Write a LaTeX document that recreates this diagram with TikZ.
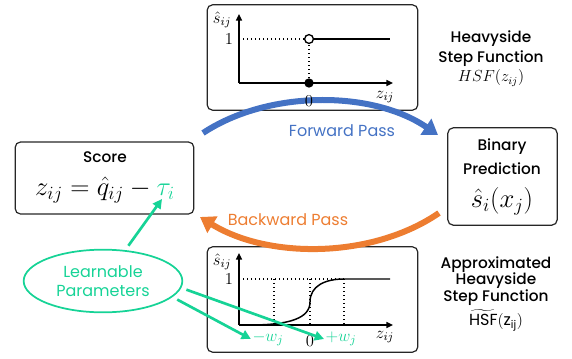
\RequirePackage{fix-cm}
\documentclass[tikz,border=0pt]{standalone}
\usepackage{amsmath,amssymb}
\usepackage{fontspec}
\setmainfont{Poppins}[BoldFont={Poppins Medium}]
\usepackage{xcolor}
\usepackage{tikz}
\usetikzlibrary{arrows.meta,positioning,shapes.geometric}
\definecolor{fwdblue}{RGB}{68,114,196}
\definecolor{bwdorange}{RGB}{237,125,49}
\definecolor{lgreen}{RGB}{22,211,150}

\begin{document}
\begin{tikzpicture}[x=0.75pt, y=-0.75pt,
  box/.style={draw=black!85, line width=0.9pt, rounded corners=4pt},
  ttl/.style={font=\fontsize{11.5}{15}\selectfont\bfseries, inner sep=0pt, align=center},
  big/.style={font=\fontsize{20}{24}\selectfont, inner sep=0pt},
  lbl/.style={font=\fontsize{12.5}{14}\selectfont, inner sep=1pt},
  axis/.style={line width=1.1pt, -{Triangle[length=5pt,width=4.5pt]}},
  pass/.style={line width=4.5pt, -{Triangle[length=11pt,width=14pt]}},
  garrow/.style={lgreen, line width=2pt, -{Triangle[length=7pt,width=7pt]}}]
\useasboundingbox (0,0) rectangle (572,358);

% boxes
\node[box, minimum width=134pt, minimum height=54pt] (score) at (104.5,178) {};
\node[box, minimum width=82pt, minimum height=73pt] (pred) at (502.5,176.5) {};
\node[box, minimum width=158pt, minimum height=79pt] (hsf) at (312.5,57.5) {};
\node[box, minimum width=158pt, minimum height=79pt] (ahsf) at (312.5,299.5) {};

% score and prediction
\node[ttl] (scorettl) at (105,157) {Score};
\node[big] (scoreeq) at (105,190) {$z_{ij} = \hat{q}_{ij} - \textcolor{lgreen}{\tau_i}$};
\coordinate (tau) at (162,199);
\node[ttl, font=\fontsize{11.5}{18}\selectfont\bfseries] (predttl) at (502,157) {Binary\\Prediction};
\node[big] (prede) at (502,201) {$\hat{s}_i(x_j)$};

% titles
\node[ttl] (hsfttl) at (491,49) {Heavyside\\Step Function};
\node[lbl, font=\fontsize{12}{14}\selectfont] (hsfeq) at (491,78) {$HSF(z_{ij})$};
\node[ttl, font=\fontsize{11.5}{12.5}\selectfont\bfseries] (ahsfttl) at (496,281) {Approximated\\Heavyside\\Step Function};
\node[lbl, font=\fontsize{12}{14}\selectfont] (ahsfeq) at (496,320) {$\widetilde{\mathrm{HSF}}(\mathrm{z_{ij}})$};

% forward / backward pass
\coordinate (fa) at (203,133);
\coordinate (fb) at (438,135);
\coordinate (ba) at (439,213);
\coordinate (bb) at (200,217);
\draw[pass, fwdblue] (fa) .. controls (268,90) and (372,90) .. (fb);
\draw[pass, bwdorange] (ba) .. controls (372,259) and (268,259) .. (bb);
\node[font=\fontsize{12}{14}\selectfont, text=fwdblue] (fwdlbl) at (342,131) {Forward Pass};
\node[font=\fontsize{12}{14}\selectfont, text=bwdorange] (bwdlbl) at (288,220) {Backward Pass};

% step function
\draw[axis] (239,83) -- (239,14);
\draw[axis] (239,83) -- (393,83);
\draw[dotted, line width=1pt] (239,39) -- (309,39) -- (309,83);
\draw[line width=1.1pt] (309,39) -- (390,39);
\fill (309,83) circle (3.5pt);
\draw[line width=1pt, fill=white] (309,39) circle (3.3pt);
\node[lbl] (hsfy) at (222,20) {$\hat{s}_{ij}$};
\node[lbl] (hsfone) at (229,39) {$1$};
\node[lbl] (hsfzero) at (309,101) {$0$};
\node[lbl] (hsfx) at (385,97) {$z_{ij}$};

% smooth step
\draw[axis] (239,325) -- (239,253);
\draw[axis] (239,325) -- (393,325);
\draw[dotted, line width=1pt] (239,279) -- (344,279);
\draw[dotted, line width=1pt] (274,279) -- (274,325);
\draw[dotted, line width=1pt] (310,279) -- (310,325);
\draw[dotted, line width=1pt] (344,279) -- (344,325);
\draw[line width=1.1pt] (250,325) .. controls (290,325) and (310,318) .. (310,302)
  .. controls (310,286) and (325,279) .. (344,279) -- (390,279);
\node[lbl] (ahsfy) at (222,262) {$\hat{s}_{ij}$};
\node[lbl] (ahsfone) at (229,279) {$1$};
\node[lbl, text=lgreen] (wm) at (268,339) {$-w_j$};
\node[lbl] (ahsfzero) at (310,341) {$0$};
\node[lbl, text=lgreen] (wp) at (341,339) {$+w_j$};
\node[lbl] (ahsfx) at (385,337) {$z_{ij}$};

% learnable parameters
\node[ellipse, draw=lgreen, line width=1.3pt, minimum width=119pt, minimum height=47pt,
  text=lgreen, align=center, font=\fontsize{12}{14.5}\selectfont] (learn) at (103,281) {Learnable\\Parameters};
\draw[garrow, shorten <=4pt] (learn) -- (tau);
\draw[garrow, shorten <=4pt] (learn.-5) -- (wp.west);
\draw[garrow, shorten <=4pt] (learn.-13) -- (wm.west);
\end{tikzpicture}
\end{document}
